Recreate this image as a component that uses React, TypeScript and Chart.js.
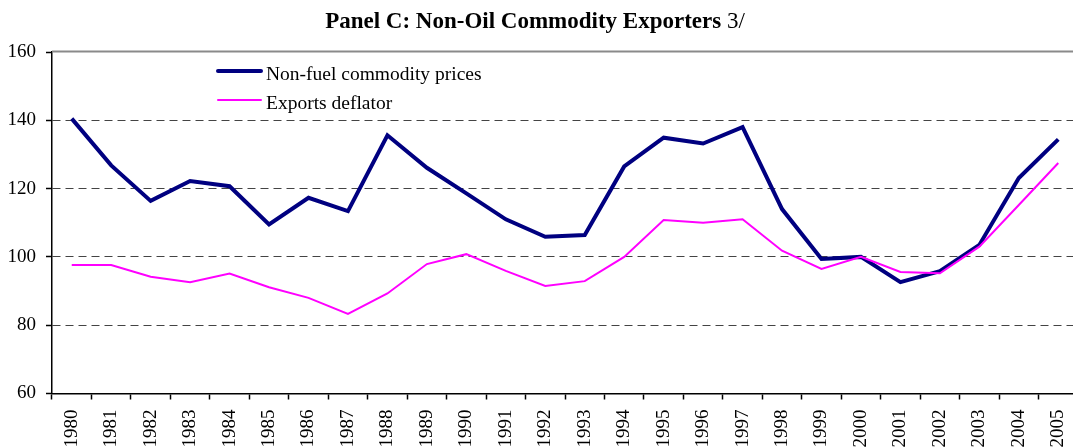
import React, { useEffect, useRef } from "react";
import { Chart, registerables } from "chart.js";

Chart.register(...registerables);

const years = [
  "1980", "1981", "1982", "1983", "1984", "1985", "1986", "1987", "1988",
  "1989", "1990", "1991", "1992", "1993", "1994", "1995", "1996", "1997",
  "1998", "1999", "2000", "2001", "2002", "2003", "2004", "2005",
];

const nonFuelPrices = [
  140.5, 126.8, 116.4, 122.2, 120.7, 109.5, 117.3, 113.4, 135.6,
  126.1, 118.6, 111.0, 105.9, 106.4, 126.5, 134.9, 133.2, 138.0,
  114.0, 99.4, 100.0, 92.6, 95.8, 103.5, 123.1, 134.4,
];

const exportsDeflator = [
  97.6, 97.6, 94.2, 92.6, 95.1, 91.1, 88.0, 83.3, 89.3,
  97.9, 100.8, 95.9, 91.5, 92.9, 100.0, 110.8, 110.0, 111.0,
  101.8, 96.5, 100.0, 95.6, 95.2, 103.0, 115.2, 127.5,
];

const seriesLabels = ["Non-fuel commodity prices", "Exports deflator"];
const titleBold = "Panel C: Non-Oil Commodity Exporters ";
const titleNote = "3/";
const yMin = 60;
const yMax = 160;
const yStep = 20;

const FONT = "'Liberation Serif', 'Times New Roman', serif";

const overlayPlugin = {
  id: "overlay",
  afterDraw(chart: any) {
    const ctx = chart.ctx as CanvasRenderingContext2D;
    const { left, right, top } = chart.chartArea;
    ctx.save();
    // solid top frame line
    ctx.strokeStyle = "#8a8a8a";
    ctx.lineWidth = 2;
    ctx.setLineDash([]);
    ctx.beginPath();
    ctx.moveTo(left, top - 0.5);
    ctx.lineTo(right, top - 0.5);
    ctx.stroke();

    // title (bold part + regular note)
    ctx.fillStyle = "#000";
    ctx.textBaseline = "alphabetic";
    ctx.textAlign = "left";
    ctx.font = `bold 23px ${FONT}`;
    const wBold = ctx.measureText(titleBold).width;
    ctx.font = `23px ${FONT}`;
    const wNote = ctx.measureText(titleNote).width;
    const cx = 535;
    const startX = cx - (wBold + wNote) / 2;
    ctx.font = `bold 23px ${FONT}`;
    ctx.fillText(titleBold, startX, 28);
    ctx.font = `23px ${FONT}`;
    ctx.fillText(titleNote, startX + wBold, 28);

    // legend
    const ds = chart.data.datasets;
    const rows = [
      { y: 71, base: 80 },
      { y: 100, base: 108.5 },
    ];
    ds.forEach((d: any, i: number) => {
      const r = rows[i];
      ctx.strokeStyle = d.borderColor;
      ctx.lineWidth = d.borderWidth;
      ctx.lineCap = "round";
      ctx.beginPath();
      ctx.moveTo(218, r.y);
      ctx.lineTo(261, r.y);
      ctx.stroke();
      ctx.fillStyle = "#000";
      ctx.font = `19.5px ${FONT}`;
      ctx.fillText(d.label, 266, r.base);
    });
    ctx.restore();
  },
};

export default function App() {
  const canvasRef = useRef<HTMLCanvasElement | null>(null);

  useEffect(() => {
    const canvas = canvasRef.current;
    if (!canvas) return;
    const chart = new Chart(canvas, {
      type: "line",
      data: {
        labels: years,
        datasets: [
          {
            label: seriesLabels[0],
            data: nonFuelPrices,
            borderColor: "#000080",
            backgroundColor: "#000080",
            borderWidth: 4,
            pointRadius: 0,
            tension: 0,
            fill: false,
            order: 1,
          },
          {
            label: seriesLabels[1],
            data: exportsDeflator,
            borderColor: "#FF00FF",
            backgroundColor: "#FF00FF",
            borderWidth: 2,
            pointRadius: 0,
            tension: 0,
            fill: false,
            order: 0,
          },
        ],
      },
      options: {
        responsive: false,
        maintainAspectRatio: false,
        animation: false,
        devicePixelRatio: 1,
        layout: { padding: { top: 52, left: 0, right: 2, bottom: 0 } },
        plugins: {
          legend: { display: false },
          title: { display: false },
          tooltip: { enabled: false },
        },
        scales: {
          x: {
            type: "category",
            offset: true,
            grid: {
              offset: true,
              drawOnChartArea: false,
              drawTicks: true,
              tickLength: 6,
              tickColor: "#000",
              tickWidth: 1.5,
            },
            border: { display: true, color: "#000", width: 1.5 },
            ticks: {
              autoSkip: false,
              maxRotation: 90,
              minRotation: 90,
              padding: 10,
              color: "#000",
              font: { family: FONT, size: 19 },
            },
            afterFit: (scale: any) => {
              scale.height = 54.5;
              scale.paddingLeft = 0;
              scale.paddingRight = 0;
            },
          },
          y: {
            min: yMin,
            max: yMax,
            ticks: {
              stepSize: yStep,
              padding: 10,
              color: "#000",
              font: { family: FONT, size: 19 },
            },
            grid: {
              color: (ctx: any) =>
                ctx.tick && (ctx.tick.value === yMax || ctx.tick.value === yMin)
                  ? "rgba(0,0,0,0)"
                  : "#444",
              lineWidth: 1,
              drawTicks: true,
              tickLength: 6,
              tickColor: "#000",
              tickWidth: 1.5,
              tickBorderDash: [],
            },
            border: { display: true, color: "#000", width: 1.5, dash: [8, 5] },
            afterFit: (scale: any) => {
              scale.width = 52;
            },
          },
        },
      },
      plugins: [overlayPlugin],
    });
    return () => chart.destroy();
  }, []);

  return (
    <div
      style={{
        position: "absolute",
        left: 0,
        top: 0,
        width: 1073,
        height: 448,
        overflow: "hidden",
        background: "#fff",
      }}
    >
      <canvas
        ref={canvasRef}
        width={1080}
        height={448}
        style={{ display: "block", width: 1080, height: 448 }}
      />
    </div>
  );
}
